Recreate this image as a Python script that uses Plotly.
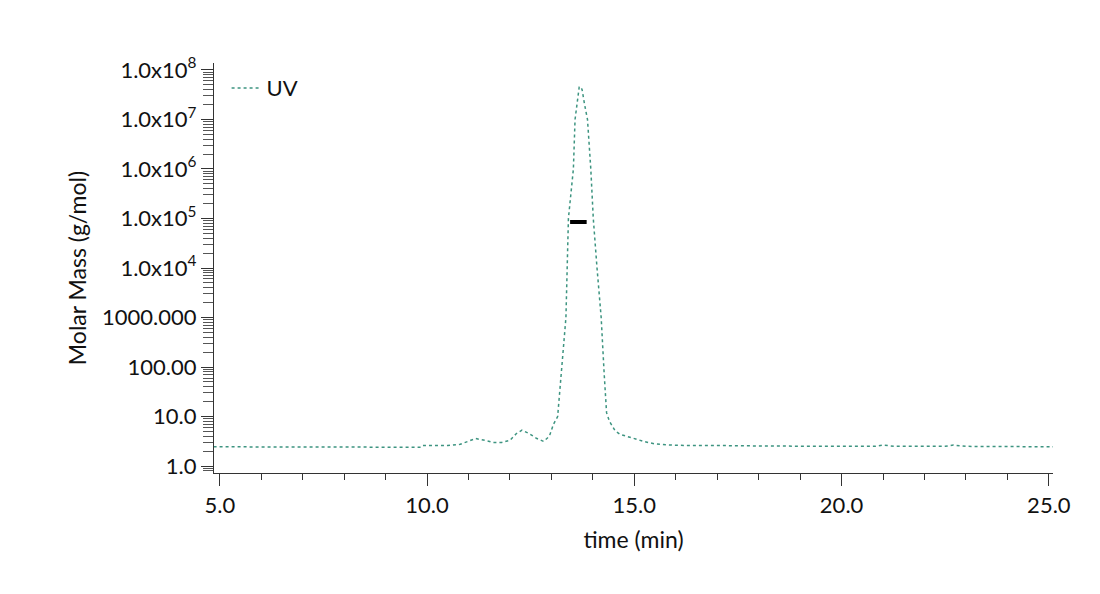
import plotly.graph_objects as go

time_min = [4.85, 6.0, 7.0, 8.0, 9.0, 9.85, 9.9, 10.5, 10.8, 11.0, 11.17, 11.4, 11.6, 11.8, 12.0, 12.15, 12.29, 12.45, 12.65, 12.81, 12.95, 13.05, 13.15, 13.25, 13.35, 13.41, 13.47, 13.53, 13.57, 13.62, 13.67, 13.70, 13.74, 13.80, 13.87, 13.95, 14.01, 14.1, 14.2, 14.27, 14.33, 14.4, 14.47, 14.54, 14.65, 14.8, 15.0, 15.25, 15.5, 16.0, 17.0, 17.5, 18.0, 19.0, 20.0, 20.8, 21.0, 21.3, 22.0, 22.5, 22.7, 23.0, 24.0, 25.1]
molar_mass = [2.45, 2.45, 2.45, 2.42, 2.4, 2.4, 2.6, 2.6, 2.75, 3.2, 3.6, 3.3, 3.0, 3.0, 3.3, 4.5, 5.3, 4.6, 3.6, 3.15, 4.0, 7.0, 10.0, 100.0, 1000.0, 1.0e5, 3.0e5, 1.0e6, 1.0e7, 2.5e7, 4.5e7, 4.6e7, 4.0e7, 2.0e7, 1.0e7, 1.0e6, 1.0e5, 1.0e4, 1000.0, 80.0, 12.0, 8.0, 6.2, 5.1, 4.4, 4.0, 3.6, 3.1, 2.8, 2.62, 2.6, 2.55, 2.55, 2.52, 2.5, 2.5, 2.65, 2.5, 2.5, 2.5, 2.65, 2.5, 2.48, 2.45]

bar_time = [13.45, 13.85]
bar_mass = [8.5e4, 8.5e4]

y_tickvals = [1, 10, 100, 1000, 1e4, 1e5, 1e6, 1e7, 1e8]
y_ticktext = ["1.0", "10.0", "100.00", "1000.000", "1.0x10<sup>4</sup>", "1.0x10<sup>5</sup>",
              "1.0x10<sup>6</sup>", "1.0x10<sup>7</sup>", "1.0x10<sup>8</sup>"]
x_tickvals = [5, 10, 15, 20, 25]
x_ticktext = ["5.0", "10.0", "15.0", "20.0", "25.0"]

fig = go.Figure()
fig.add_trace(go.Scatter(x=time_min, y=molar_mass, mode="lines", name="UV",
                         line=dict(color="#3d9480", width=1.5, dash="dot")))
fig.add_trace(go.Scatter(x=bar_time, y=bar_mass, mode="lines", showlegend=False,
                         line=dict(color="black", width=4)))

fig.update_layout(
    width=1100, height=594, paper_bgcolor="white", plot_bgcolor="white",
    margin=dict(l=206, r=55, t=55, b=129),
    font=dict(family="Lato", size=22, color="#111"),
    legend=dict(x=0.015, y=0.99, xanchor="left", yanchor="top", bgcolor="rgba(0,0,0,0)",
                font=dict(size=22)),
    xaxis=dict(range=[4.86, 25.1], tickvals=x_tickvals, ticktext=x_ticktext,
               showgrid=False, zeroline=False, showline=True, linecolor="#333", linewidth=1.2,
               ticks="outside", ticklen=12, tickcolor="#333",
               minor=dict(ticks="outside", ticklen=6, dtick=1, tickcolor="#333", showgrid=False),
               title=dict(text="time (min)", font=dict(size=23))),
    yaxis=dict(type="log", range=[-0.14, 8.14], tickvals=y_tickvals, ticktext=y_ticktext,
               showgrid=False, zeroline=False, showline=True, linecolor="#333", linewidth=1.2,
               ticks="outside", ticklen=12, tickcolor="#333",
               minor=dict(ticks="outside", ticklen=10, dtick="D1", tickcolor="#555", showgrid=False),
               title=dict(text="Molar Mass (g/mol)", font=dict(size=23), standoff=8)),
)
fig.write_html("out.html")
